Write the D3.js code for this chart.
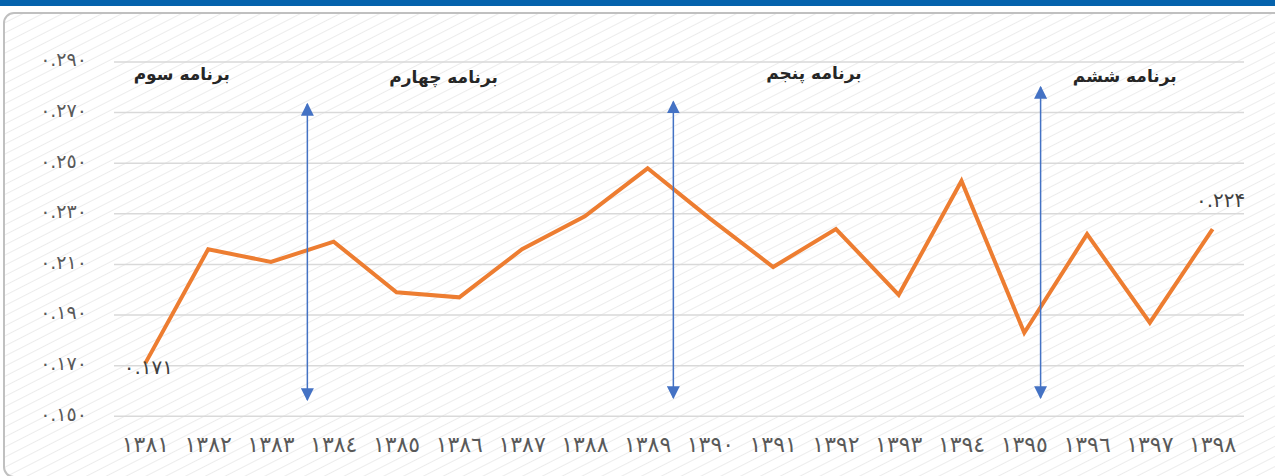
<!DOCTYPE html>
<html>
<head>
<meta charset="utf-8">
<script src="https://cdn.jsdelivr.net/npm/d3@7"></script>
<style>
  body { margin: 0; background: #fff; }
  svg { display: block; font-family: "DejaVu Sans", sans-serif; }
</style>
</head>
<body>
<div id="chart"></div>
<script>
var width = 1275;
var height = 476;

// data
var years = ["١٣٨١","١٣٨٢","١٣٨٣","١٣٨٤","١٣٨٥","١٣٨٦","١٣٨٧","١٣٨٨","١٣٨٩",
             "١٣٩٠","١٣٩١","١٣٩٢","١٣٩٣","١٣٩٤","١٣٩٥","١٣٩٦","١٣٩٧","١٣٩٨"];
var values = [0.171,0.216,0.211,0.219,0.199,0.197,0.216,0.229,0.248,
              0.228,0.209,0.224,0.198,0.243,0.183,0.222,0.187,0.224];
var yTicks = [0.150,0.170,0.190,0.210,0.230,0.250,0.270,0.290];
var yTickLabels = ["٠.١٥٠","٠.١٧٠","٠.١٩٠","٠.٢١٠","٠.٢٣٠","٠.٢٥٠","٠.٢٧٠","٠.٢٩٠"];
var pointLabels = [{i: 0, text: "٠.١٧١"}, {i: 17, text: "٠.٢٢۴"}];
// plan periods: name, position in category units, height in value units
var planNames = ["برنامه سوم","برنامه چهارم","برنامه پنجم","برنامه ششم"];
var planPos = [1.08, 5.25, 11.15, 16.1];
var planY = [0.2853, 0.2841, 0.2857, 0.2845];
// double arrows between plans: position (category units), top and bottom value
var arrowPos = [3.08, 8.91, 14.76];
var arrowTop = [0.2734, 0.2743, 0.2801];
var arrowBottom = [0.1565, 0.1573, 0.1573];

var margin = {left: 114, right: 31, top: 62, bottom: 60};
var plotW = width - margin.left - margin.right;
var plotTop = 62, plotBottom = 416.3;

var svg = d3.select("#chart").append("svg")
  .attr("width", width)
  .attr("height", height);

var defs = svg.append("defs");
var pat = defs.append("pattern")
  .attr("id", "hatch")
  .attr("patternUnits", "userSpaceOnUse")
  .attr("width", 9).attr("height", 9)
  .attr("patternTransform", "rotate(-27)");
pat.append("line")
  .attr("x1", 0).attr("y1", 4.5).attr("x2", 9).attr("y2", 4.5)
  .attr("stroke", "#ececec").attr("stroke-width", 1);

var mk = defs.append("marker")
  .attr("id", "arrowhead")
  .attr("viewBox", "0 0 10 10")
  .attr("refX", 9).attr("refY", 5)
  .attr("markerWidth", 13).attr("markerHeight", 13)
  .attr("markerUnits", "userSpaceOnUse")
  .attr("orient", "auto-start-reverse");
mk.append("path").attr("d", "M0,0 L10,5 L0,10 Z").attr("fill", "#4472c4");

// background + frame
svg.append("rect").attr("width", width).attr("height", height).attr("fill", "#fff");
svg.append("rect")
  .attr("x", 4).attr("y", 13).attr("width", 1290).attr("height", 464)
  .attr("rx", 10)
  .attr("fill", "url(#hatch)")
  .attr("stroke", "#c0c0c0").attr("stroke-width", 2);
svg.append("rect").attr("x", 0).attr("y", 0).attr("width", width).attr("height", 6)
  .attr("fill", "#0563ad");

var x = d3.scaleBand().domain(d3.range(years.length))
  .range([margin.left, margin.left + plotW]);
var xc = d3.scaleLinear().domain([0, years.length])
  .range([margin.left, margin.left + plotW]);
var y = d3.scaleLinear().domain([0.15, 0.29]).range([plotBottom, plotTop]);

// gridlines
svg.append("g").selectAll("line").data(yTicks).enter().append("line")
  .attr("x1", margin.left).attr("x2", margin.left + plotW)
  .attr("y1", function(d) { return y(d); })
  .attr("y2", function(d) { return y(d); })
  .attr("stroke", "#d9d9d9").attr("stroke-width", 1.5);

// y axis labels
var yAxis = d3.axisLeft(y).tickValues(yTicks)
  .tickFormat(function(d, i) { return yTickLabels[i]; })
  .tickSize(0).tickPadding(27);
var gy = svg.append("g").attr("transform", "translate(" + margin.left + ",0)").call(yAxis);
gy.select(".domain").remove();
gy.selectAll("text")
  .attr("fill", "#595959").attr("font-size", 19)
  .attr("font-family", "DejaVu Sans, sans-serif")
  .attr("dy", "0.2em");

// x axis labels
var xAxis = d3.axisBottom(x).tickFormat(function(d) { return years[d]; })
  .tickSize(0).tickPadding(20);
var gx = svg.append("g").attr("transform", "translate(0," + plotBottom + ")").call(xAxis);
gx.select(".domain").remove();
gx.selectAll("text")
  .attr("fill", "#595959").attr("font-size", 22)
  .attr("font-family", "DejaVu Sans, sans-serif");

// line
var line = d3.line()
  .x(function(d, i) { return x(i) + x.bandwidth() / 2; })
  .y(function(d) { return y(d); });
svg.append("path").datum(values)
  .attr("d", line)
  .attr("fill", "none")
  .attr("stroke", "#ed7d31")
  .attr("stroke-width", 4)
  .attr("stroke-linejoin", "miter");

// data labels
svg.append("text")
  .attr("x", x(pointLabels[0].i) + x.bandwidth() / 2 + 3)
  .attr("y", y(values[pointLabels[0].i]) + 11)
  .attr("text-anchor", "middle")
  .attr("font-size", 20).attr("fill", "#404040")
  .text(pointLabels[0].text);
svg.append("text")
  .attr("x", x(pointLabels[1].i) + x.bandwidth() / 2 + 8)
  .attr("y", y(values[pointLabels[1].i]) - 22)
  .attr("text-anchor", "middle")
  .attr("font-size", 20).attr("fill", "#404040")
  .text(pointLabels[1].text);

// arrows
svg.append("g").selectAll("line").data(arrowPos).enter().append("line")
  .attr("x1", function(d) { return xc(d); })
  .attr("x2", function(d) { return xc(d); })
  .attr("y1", function(d, i) { return y(arrowTop[i]); })
  .attr("y2", function(d, i) { return y(arrowBottom[i]); })
  .attr("stroke", "#4472c4").attr("stroke-width", 1.5)
  .attr("marker-start", "url(#arrowhead)")
  .attr("marker-end", "url(#arrowhead)");

// plan titles
svg.append("g").selectAll("text").data(planNames).enter().append("text")
  .attr("x", function(d, i) { return xc(planPos[i]); })
  .attr("y", function(d, i) { return y(planY[i]); })
  .attr("dy", "0.35em")
  .attr("text-anchor", "middle")
  .attr("direction", "rtl")
  .attr("font-size", 17).attr("font-weight", "bold").attr("fill", "#262626")
  .text(function(d) { return d; });
</script>
</body>
</html>
